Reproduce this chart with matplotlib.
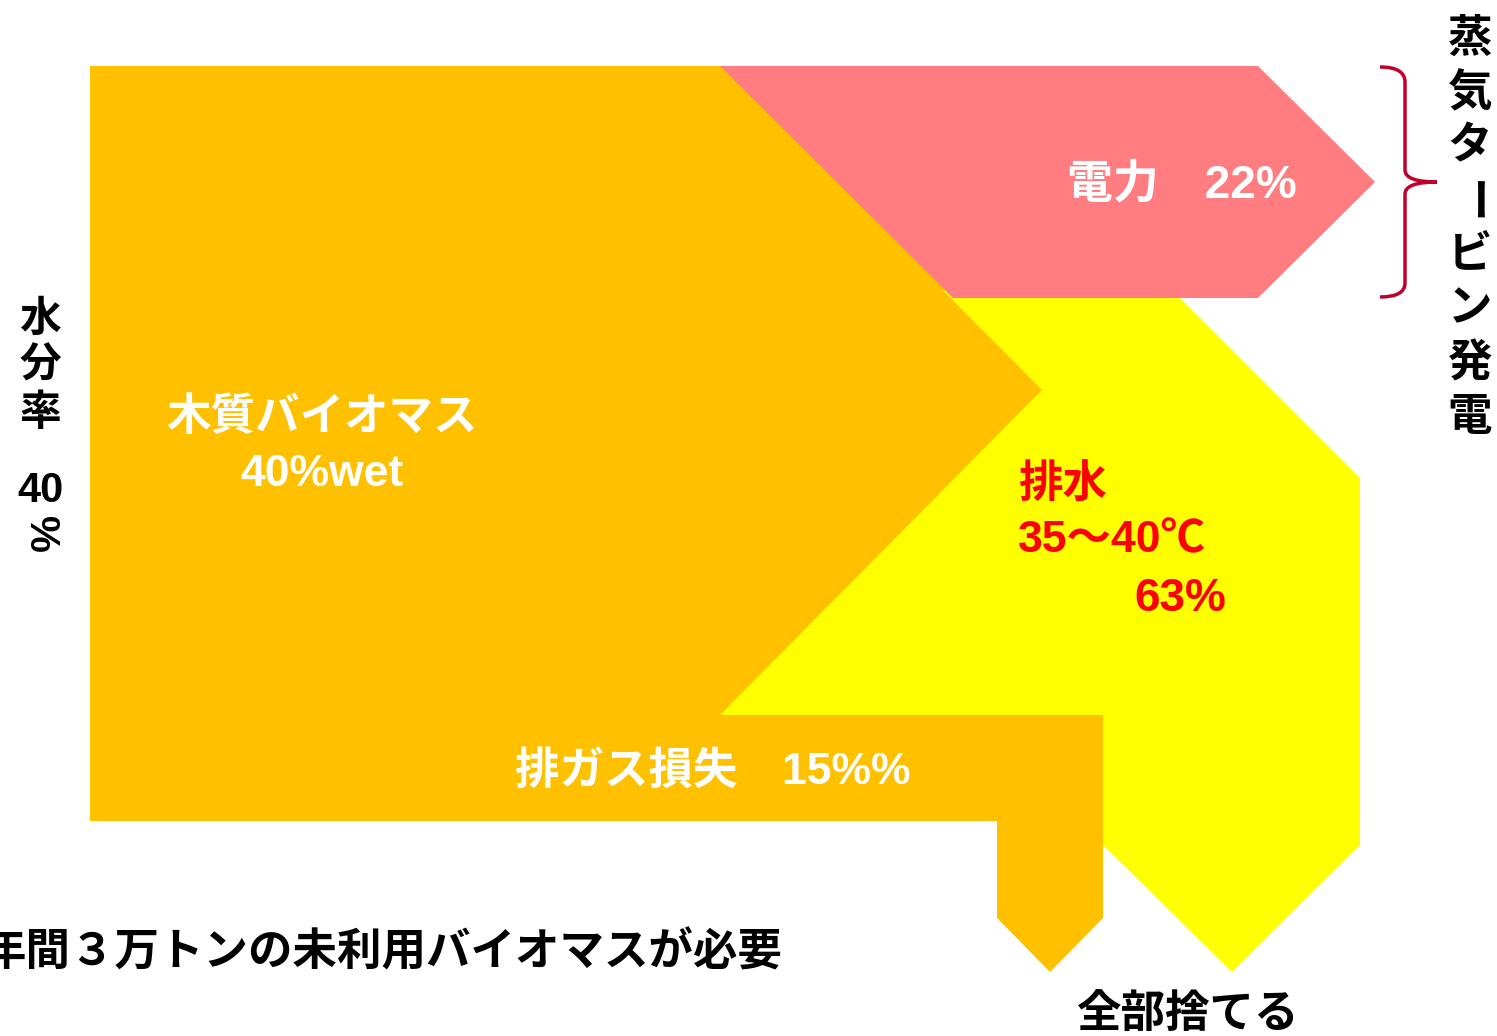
import matplotlib.pyplot as plt
from matplotlib.patches import Polygon, PathPatch
from matplotlib.path import Path

plt.rcParams['font.family'] = ['Liberation Sans', 'Noto Sans CJK JP', 'DejaVu Sans']

# flows out of the wood biomass input (percent shares shown on the chart)
flow_names = ["電力", "排水", "排ガス損失"]
flow_shares = ["22%", "63%", "15%%"]
flow_colors = ["#FF7C80", "#FFFF00", "#FFC000"]
input_label = ["木質バイオマス", "40%wet"]
drain_temp = "35～40℃"
moisture_chars = ["水", "分", "率"]
turbine_chars = list("蒸気タービン発電")

# band outlines in picture pixels (x right, y down)
pink_band = [(720, 66), (1258, 66), (1375, 182), (1258, 298), (953, 298)]
yellow_band = [(900, 290), (1172, 290), (1360, 478), (1360, 845), (1232, 972),
               (1103, 845), (1103, 715), (700, 715)]
orange_band = [(90, 66), (720, 66), (1042, 390), (720, 715), (1103, 715),
               (1103, 918), (1050, 972), (997, 918), (997, 821), (90, 821)]
# orange strip hidden under the pink band, avoids a white seam on the diagonal
orange_under = [(700, 66), (760, 66), (985, 290), (922, 290)]

fig = plt.figure(figsize=(14.97, 10.36), dpi=100)
ax = fig.add_axes([0, 0, 1, 1])
ax.set_xlim(0, 1497)
ax.set_ylim(1036, 0)
ax.axis("off")

ax.add_patch(Polygon(yellow_band, closed=True, fc=flow_colors[1], ec="none"))
ax.add_patch(Polygon(orange_band, closed=True, fc=flow_colors[2], ec="none"))
ax.add_patch(Polygon(orange_under, closed=True, fc=flow_colors[2], ec="none"))
ax.add_patch(Polygon(pink_band, closed=True, fc=flow_colors[0], ec="none"))

# curly brace for the steam turbine
verts = [(1380, 67), (1405, 67), (1405, 82),
         (1405, 170),
         (1405, 182), (1437, 182),
         (1405, 182), (1405, 194),
         (1405, 283),
         (1405, 297), (1380, 297)]
codes = [Path.MOVETO, Path.CURVE3, Path.CURVE3,
         Path.LINETO,
         Path.CURVE3, Path.CURVE3,
         Path.CURVE3, Path.CURVE3,
         Path.LINETO,
         Path.CURVE3, Path.CURVE3]
ax.add_patch(PathPatch(Path(verts, codes), fc="none", ec="#C0002A", lw=2.5))

fs = 32
ax.text(1182, 185, flow_names[0] + "　" + flow_shares[0], color="white",
        fontsize=33, fontweight="bold", ha="center", va="center")
ax.text(322, 418, input_label[0], color="white", fontsize=fs, fontweight="bold",
        ha="center", va="center")
ax.text(322, 475, input_label[1], color="white", fontsize=fs, fontweight="bold",
        ha="center", va="center")
ax.text(1018, 485, flow_names[1], color="#FF0000", fontsize=fs, fontweight="bold",
        ha="left", va="center")
ax.text(1018, 541, drain_temp, color="#FF0000", fontsize=fs, fontweight="bold",
        ha="left", va="center")
ax.text(1226, 599, flow_shares[1], color="#FF0000", fontsize=33, fontweight="bold",
        ha="right", va="center")
ax.text(515, 772, flow_names[2] + "　" + flow_shares[2], color="white",
        fontsize=fs, fontweight="bold", ha="left", va="center")

ax.text(-19, 953, "年間３万トンの未利用バイオマスが必要", color="black",
        fontsize=fs, fontweight="bold", ha="left", va="center")
ax.text(1187, 1015, "全部捨てる", color="black", fontsize=fs,
        fontweight="bold", ha="center", va="center")

# vertical labels
for i, ch in enumerate(moisture_chars):
    ax.text(40, 320 + i * 47, ch, color="black", fontsize=30, fontweight="bold",
            ha="center", va="center")
ax.text(40, 491, "40", color="black", fontsize=30, fontweight="bold",
        ha="center", va="center")
ax.text(40, 535, "%", color="black", fontsize=30, fontweight="bold",
        ha="center", va="center", rotation=-90)

for i, ch in enumerate(turbine_chars):
    rot = -90 if ch == "ー" else 0
    ax.text(1470, 40 + i * 54, ch, color="black", fontsize=32, fontweight="bold",
            ha="center", va="center", rotation=rot)

fig.savefig("out.png", dpi=100)
